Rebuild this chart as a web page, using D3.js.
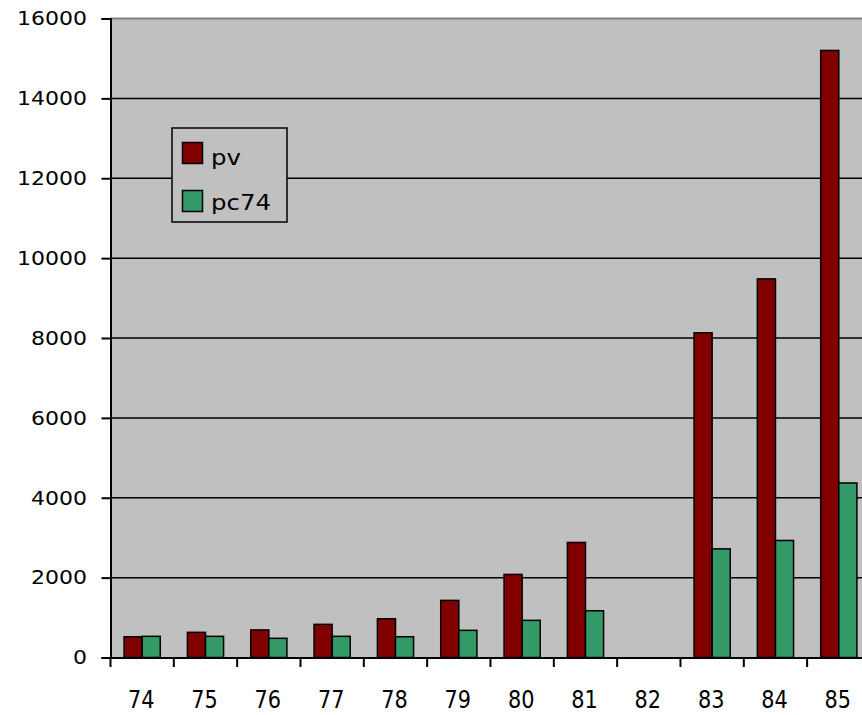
<!DOCTYPE html>
<html>
<head>
<meta charset="utf-8">
<script src="https://cdn.jsdelivr.net/npm/d3@7"></script>
<style>
  html, body { margin: 0; padding: 0; background: #ffffff; }
  svg { display: block; }
  text { font-family: "DejaVu Sans", sans-serif; fill: #000; }
</style>
</head>
<body>
<svg id="chart" width="862" height="715"></svg>
<script>
const categories = ["74","75","76","77","78","79","80","81","82","83","84","85"];
const pvValues   = [520, 630, 690, 830, 970, 1430, 2080, 2880, null, 8130, 9480, 15200];
const pc74Values = [530, 530, 480, 530, 520, 680, 930, 1170, null, 2720, 2930, 4370];
const seriesNames = ["pv", "pc74"];
const seriesColors = ["#800000", "#339966"];
const yTicks = [0, 2000, 4000, 6000, 8000, 10000, 12000, 14000, 16000];

(function () {
const svg = d3.select("#chart");
const plotLeft = 110.5, plotTop = 18.5, zeroY = 657.5;
const band = 63.33;
const plotRight = plotLeft + band * categories.length;

const x = d3.scaleBand().domain(categories).range([plotLeft, plotRight]).paddingInner(0).paddingOuter(0);
const y = d3.scaleLinear().domain([0, 16000]).range([zeroY, plotTop]);
const barW = band / 3.5;
const sub = d3.scaleBand().domain(seriesNames).range([0, 2 * barW]);

// plot background
svg.append("rect").attr("x", plotLeft).attr("y", plotTop)
  .attr("width", plotRight - plotLeft).attr("height", zeroY - plotTop)
  .attr("fill", "#c0c0c0");

// gridlines
svg.append("g").selectAll("line").data(yTicks.filter(v => v > 0 && v < 16000)).join("line")
  .attr("x1", plotLeft).attr("x2", plotRight)
  .attr("y1", d => y(d)).attr("y2", d => y(d))
  .attr("stroke", "#000").attr("stroke-width", 1.5);
// top border
svg.append("line").attr("x1", plotLeft).attr("x2", plotRight)
  .attr("y1", y(16000)).attr("y2", y(16000))
  .attr("stroke", "#808080").attr("stroke-width", 2);

// bars
const rows = categories.map((c, i) => ({ c, vals: [pvValues[i], pc74Values[i]] }));
const g = svg.append("g");
rows.forEach(r => {
  r.vals.forEach((v, j) => {
    if (v == null) return;
    g.append("rect")
      .attr("x", x(r.c) + (band - 2 * barW) / 2 + sub(seriesNames[j]))
      .attr("y", y(v))
      .attr("width", barW)
      .attr("height", y(0) - y(v))
      .attr("fill", seriesColors[j])
      .attr("stroke", "#000").attr("stroke-width", 1.5);
  });
});

// y axis
const yAxis = d3.axisLeft(y).tickValues(yTicks).tickSize(9).tickPadding(14.5).tickFormat(d3.format("d"));
const ya = svg.append("g").attr("transform", `translate(${plotLeft},0)`).call(yAxis);
ya.select(".domain").attr("stroke", "#000").attr("stroke-width", 2);
ya.selectAll(".tick line").attr("stroke", "#000").attr("stroke-width", 2);
ya.selectAll("text")
  .style("font-size", "19.5px").style("font-family", "DejaVu Sans").attr("fill", "#000")
  .attr("textLength", d => String(d).length * 14).attr("lengthAdjust", "spacingAndGlyphs");

// x axis
const xAxis = d3.axisBottom(x).tickSize(0).tickPadding(0);
const xa = svg.append("g").attr("transform", `translate(0,${zeroY})`).call(xAxis);
xa.select(".domain").attr("stroke", "#000").attr("stroke-width", 2);
xa.selectAll("text").attr("y", 50).attr("dy", 0)
  .style("font-size", "25px").style("font-family", "DejaVu Sans").attr("fill", "#000")
  .attr("textLength", 26.5).attr("lengthAdjust", "spacingAndGlyphs").attr("dx", -1);
// boundary tick marks
svg.append("g").selectAll("line").data(categories).join("line")
  .attr("x1", d => x(d)).attr("x2", d => x(d))
  .attr("y1", zeroY).attr("y2", zeroY + 9.5)
  .attr("stroke", "#000").attr("stroke-width", 2);

// legend
const legendWidths = [30, 60];
const lg = svg.append("g");
lg.append("rect").attr("x", 172).attr("y", 128).attr("width", 115).attr("height", 94)
  .attr("fill", "#c0c0c0").attr("stroke", "#000").attr("stroke-width", 1.5);
seriesNames.forEach((n, i) => {
  lg.append("rect").attr("x", 182.5).attr("y", 142.5 + i * 48).attr("width", 20).attr("height", 21)
    .attr("fill", seriesColors[i]).attr("stroke", "#000").attr("stroke-width", 1.5);
  lg.append("text").attr("x", 211).attr("y", 164.5 + i * 45.5).text(n)
    .style("font-size", "21.5px")
    .attr("textLength", legendWidths[i]).attr("lengthAdjust", "spacingAndGlyphs");
});
})();
</script>
</body>
</html>
